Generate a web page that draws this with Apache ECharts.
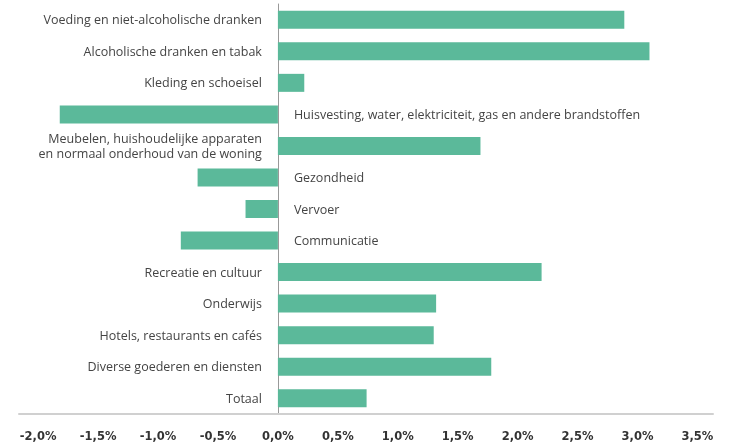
<!DOCTYPE html>
<html>
<head>
<meta charset="utf-8">
<script src="https://cdn.jsdelivr.net/npm/echarts@6/dist/echarts.min.js"></script>
<style>
	html, body { margin: 0; padding: 0; background: #fff; }
	#chart { width: 742px; height: 447px; }
</style>
</head>
<body>
<div id="chart"></div>
<script>
	// categories top to bottom
	var categories = [
		'Voeding en niet-alcoholische dranken',
		'Alcoholische dranken en tabak',
		'Kleding en schoeisel',
		'Huisvesting, water, elektriciteit, gas en andere brandstoffen',
		'Meubelen, huishoudelijke apparaten\nen normaal onderhoud van de woning',
		'Gezondheid',
		'Vervoer',
		'Communicatie',
		'Recreatie en cultuur',
		'Onderwijs',
		'Hotels, restaurants en cafés',
		'Diverse goederen en diensten',
		'Totaal'
	];
	// change in %
	var values = [2.89, 3.10, 0.22, -1.82, 1.69, -0.67, -0.27, -0.81, 2.20, 1.32, 1.30, 1.78, 0.74];
	var tickValues = [-2, -1.5, -1, -0.5, 0, 0.5, 1, 1.5, 2, 2.5, 3, 3.5];

	var barData = [];
	for (var i = 0; i < values.length; i++) {
		barData.push({
			value: values[i],
			label: { position: values[i] < 0 ? 'right' : 'left' }
		});
	}

	var myChart = echarts.init(document.getElementById('chart'));
	myChart.setOption({
		animation: false,
		grid: { left: 19, right: 29, top: 4, bottom: 33, containLabel: false },
		xAxis: {
			type: 'value',
			min: -2.16,
			max: 3.63,
			splitLine: { show: false },
			axisTick: { show: false },
			axisLine: { show: true, onZero: false, lineStyle: { color: '#d0d0d0', width: 2 } },
			axisLabel: {
				customValues: tickValues,
				margin: 17,
				fontFamily: 'DejaVu Sans',
				fontWeight: 'bold',
				fontSize: 11.5,
				color: '#333',
				formatter: function(v) {
					return v.toFixed(1).replace('.', ',') + '%';
				}
			}
		},
		yAxis: {
			type: 'category',
			inverse: true,
			data: categories,
			axisTick: { show: false },
			axisLabel: { show: false },
			axisLine: { show: true, onZero: true, lineStyle: { color: '#999', width: 1 } }
		},
		series: [{
			type: 'bar',
			data: barData,
			barWidth: 18,
			itemStyle: { color: '#5bb99a' },
			label: {
				show: true,
				distance: 16,
				offset: [0, 1],
				fontFamily: 'Open Sans',
				fontSize: 12.5,
				lineHeight: 15,
				color: '#444',
				formatter: function(p) { return categories[p.dataIndex]; }
			}
		}]
	});
</script>
</body>
</html>
